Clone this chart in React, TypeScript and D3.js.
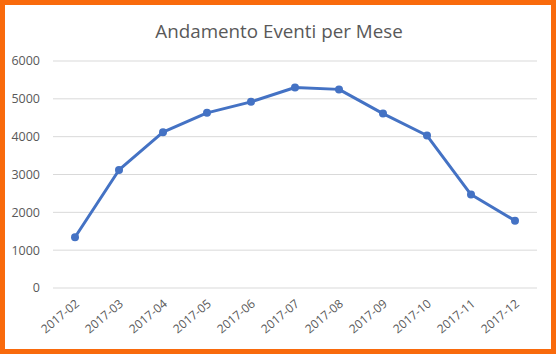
import React from 'react';
import * as d3 from 'd3';

const months = ['2017-02', '2017-03', '2017-04', '2017-05', '2017-06', '2017-07', '2017-08', '2017-09', '2017-10', '2017-11', '2017-12'];
const events = [1340, 3120, 4120, 4630, 4920, 5300, 5250, 4610, 4030, 2470, 1780];
const yTicks = [0, 1000, 2000, 3000, 4000, 5000, 6000];

const W = 556;
const H = 354;
const margin = { top: 61, right: 19, bottom: 66, left: 53 };
const font = 'Open Sans, Noto Sans, sans-serif';

const App = () => {
  const innerW = W - margin.left - margin.right;
  const innerH = H - margin.top - margin.bottom;

  const x = d3.scaleBand().domain(months).range([0, innerW]);
  const y = d3.scaleLinear().domain([0, 6000]).range([innerH, 0]);

  const line = d3.line<number>()
    .x((_, i) => x(months[i])! + x.bandwidth() / 2)
    .y(d => y(d));

  return (
    <svg width={W} height={H} style={{ position: 'fixed', left: 0, top: 0 }}>
      {/* orange frame */}
      <rect x={0} y={0} width={W} height={H} fill="#F96A0C" />
      <rect x={5} y={5} width={W - 10} height={H - 10} fill="#ffffff" />

      <text x={W / 2 + 1} y={38} textAnchor="middle" fontFamily={font} fontSize={18.8} fill="#595959">
        Andamento Eventi per Mese
      </text>

      <g transform={`translate(${margin.left},${margin.top})`}>
        {yTicks.map(t => (
          <g key={t}>
            <line x1={0} x2={innerW} y1={y(t)} y2={y(t)} stroke="#d9d9d9" strokeWidth={1} />
            <text x={-13} y={y(t)} dy="0.35em" textAnchor="end" fontFamily={font} fontSize={12.5} fill="#595959">
              {t}
            </text>
          </g>
        ))}

        {months.map(m => {
          const cx = x(m)! + x.bandwidth() / 2;
          return (
            <text
              key={m}
              transform={`translate(${cx + 5},${innerH + 17}) rotate(-40)`}
              textAnchor="end"
              fontFamily={font}
              fontSize={12}
              fill="#595959"
            >
              {m}
            </text>
          );
        })}

        <path d={line(events)!} fill="none" stroke="#4472C4" strokeWidth={3} strokeLinejoin="round" />
        {events.map((v, i) => (
          <circle key={months[i]} cx={x(months[i])! + x.bandwidth() / 2} cy={y(v)} r={4} fill="#4472C4" />
        ))}
      </g>
    </svg>
  );
};

export default App;
